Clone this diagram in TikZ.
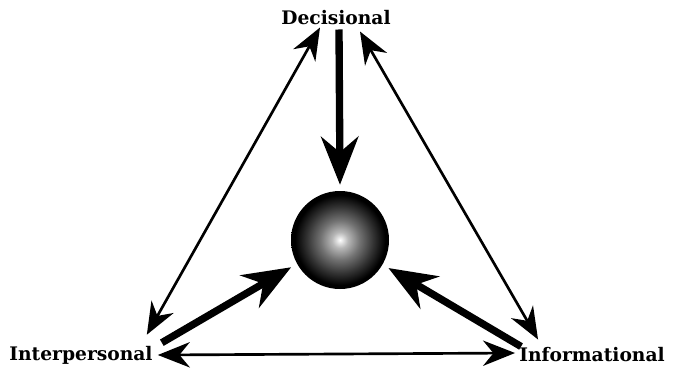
\documentclass[tikz,border=0pt]{standalone}
\usepackage{fontspec}
\setmainfont{DejaVu Serif}
\usetikzlibrary{arrows.meta,calc}

\pgfdeclareradialshading{sphereglow}{\pgfpoint{0bp}{0bp}}{%
  color(0bp)=(white); color(4bp)=(black!28); color(10bp)=(black!55);
  color(17bp)=(black!80); color(23bp)=(black); color(50bp)=(black)}

\begin{document}
\begin{tikzpicture}[
    x=0.75pt, y=-0.75pt,
    font=\bfseries\fontsize{14}{16}\selectfont,
    rolelabel/.style={inner sep=0pt},
    linkarrow/.style={line width=2pt,
        {Stealth[length=24pt,width=19pt]}-{Stealth[length=24pt,width=19pt]}},
    feedarrow/.style={line width=5.5pt, -{Stealth[length=36pt,width=28pt]}}
]
\useasboundingbox (0,0) rectangle (673,369);

% 1. Los tres roles
\node[rolelabel] (dec) at (336,18) {Decisional};
\node[rolelabel] (inter) at (81,355) {Interpersonal};
\node[rolelabel] (info) at (592,355) {Informational};

% 2. Esfera central
\node[circle, minimum size=73.5pt, shading=sphereglow] (ball) at (340,240) {};

% 3. Enlaces finos entre roles
\draw[linkarrow] ($(dec.south)+(-16,2)$) -- ($(inter.north east)+(-6,-11)$);
\draw[linkarrow] ($(dec.south)+(24,6)$) -- ($(info.north west)+(19,-8)$);
\draw[linkarrow] ($(inter.east)+(5,0)$) -- ($(info.west)+(-4,-2)$);

% 4. Flechas gruesas hacia la esfera
\draw[feedarrow] ($(dec.south)+(3,4)$) -- ($(ball.north)+(0,-6)$);
\draw[feedarrow, shorten >=5pt] ($(inter.north east)+(9,-3)$) -- (ball.209);
\draw[feedarrow, shorten >=5pt] ($(info.north west)+(2,-1)$) -- (ball.330);

\end{tikzpicture}
\end{document}
